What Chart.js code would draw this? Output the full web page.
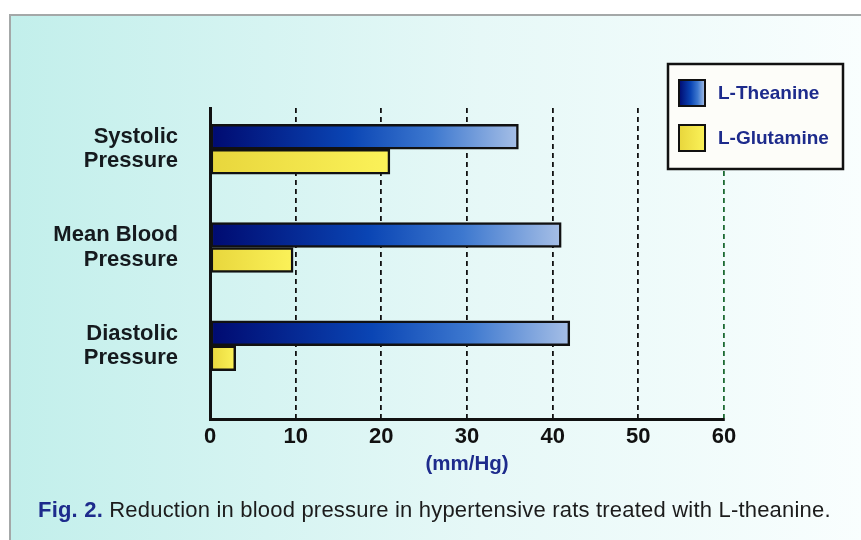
<!DOCTYPE html>
<html>
<head>
<meta charset="utf-8">
<script src="https://cdn.jsdelivr.net/npm/chart.js@4"></script>
<style>
  html, body { margin: 0; padding: 0; background: #ffffff; }
  #wrap { position: relative; width: 861px; height: 540px; overflow: hidden; }
  #panel {
    position: absolute; left: 9px; top: 14px; right: -4px; bottom: -4px;
    border-top: 2px solid #a4a8a8; border-left: 2px solid #a4a8a8;
    background: linear-gradient(to right, #c2efeb 0%, #d6f4f2 30%, #e6f8f7 55%, #f9fefe 100%);
  }
  #chart { position: absolute; left: 0; top: 0; }
  #caption {
    position: absolute; left: 38px; top: 497px;
    font: 22px "Liberation Sans", Arial, sans-serif; line-height: 26px; color: #1c1c1c;
    white-space: nowrap; letter-spacing: 0.2px;
  }
  #caption b { color: #1d2b8c; }
</style>
</head>
<body>
<div id="wrap">
  <div id="panel"></div>
  <canvas id="chart" width="861" height="540"></canvas>
  <div id="caption"><b>Fig. 2.</b> Reduction in blood pressure in hypertensive rats treated with L-theanine.</div>
</div>
<script>
const CATEGORIES = [['Systolic', 'Pressure'], ['Mean Blood', 'Pressure'], ['Diastolic', 'Pressure']];
const SERIES_NAMES = ['L-Theanine', 'L-Glutamine'];
const THEANINE = [36, 41, 42];
const GLUTAMINE = [21, 9.7, 3];
const X_MIN = 0;
const X_MAX = 60;
const X_STEP = 10;

const NAVY = '#1d2b8c';
const FONT = '"Liberation Sans", Arial, sans-serif';

function blueGradient(ctx, x0, x1) {
  const g = ctx.createLinearGradient(x0, 0, x1, 0);
  g.addColorStop(0, '#000a70');
  g.addColorStop(0.45, '#0a45b4');
  g.addColorStop(0.72, '#3d78cf');
  g.addColorStop(1, '#a6bfe6');
  return g;
}

function yellowGradient(ctx, x0, x1) {
  const g = ctx.createLinearGradient(x0, 0, x1, 0);
  g.addColorStop(0, '#e8d63c');
  g.addColorStop(1, '#fbf259');
  return g;
}

function barFill(makeGradient, fallback) {
  return (context) => {
    const chart = context.chart;
    if (!chart.chartArea || !context.parsed || !chart.scales.x) return fallback;
    const x = chart.scales.x;
    return makeGradient(chart.ctx, x.getPixelForValue(0), x.getPixelForValue(context.parsed.x));
  };
}

const legendBox = {
  id: 'legendBox',
  afterDraw(chart) {
    const ctx = chart.ctx;
    ctx.save();
    ctx.fillStyle = '#fdfdf9';
    ctx.fillRect(668, 64, 175, 105);
    ctx.lineWidth = 2.5;
    ctx.strokeStyle = '#111';
    ctx.strokeRect(668, 64, 175, 105);
    const makers = [blueGradient, yellowGradient];
    chart.data.datasets.forEach((ds, i) => {
      const y = 80 + i * 45;
      ctx.fillStyle = makers[i](ctx, 679, 705);
      ctx.fillRect(679, y, 26, 26);
      ctx.lineWidth = 2;
      ctx.strokeStyle = '#111';
      ctx.strokeRect(679, y, 26, 26);
      ctx.fillStyle = NAVY;
      ctx.font = 'bold 19px ' + FONT;
      ctx.textBaseline = 'middle';
      ctx.textAlign = 'left';
      ctx.fillText(ds.label, 718, y + 14);
    });
    ctx.restore();
  }
};

new Chart(document.getElementById('chart'), {
  type: 'bar',
  data: {
    datasets: [{
      label: SERIES_NAMES[0],
      data: THEANINE.map((v, i) => ({ x: v, y: i })),
      backgroundColor: barFill(blueGradient, '#0a45b4'),
      borderColor: '#111',
      borderWidth: 2.5,
      borderSkipped: false,
      barThickness: 25
    }, {
      label: SERIES_NAMES[1],
      data: GLUTAMINE.map((v, i) => ({ x: v, y: i })),
      backgroundColor: barFill(yellowGradient, '#f2e44a'),
      borderColor: '#111',
      borderWidth: 2.5,
      borderSkipped: false,
      barThickness: 25
    }]
  },
  options: {
    indexAxis: 'y',
    responsive: false,
    animation: false,
    layout: { padding: { left: 10, top: 108, right: 137, bottom: 61 } },
    scales: {
      x: {
        type: 'linear',
        min: X_MIN,
        max: X_MAX,
        afterFit: (s) => { s.height = 60; },
        ticks: {
          stepSize: X_STEP,
          padding: 5,
          color: '#111',
          font: { family: FONT, size: 22, weight: 'bold' }
        },
        grid: {
          drawTicks: false,
          color: (ctx) => (ctx.tick && ctx.tick.value === X_MAX ? '#1d6b34' : '#111'),
          lineWidth: 1.8
        },
        border: { display: true, color: '#111', width: 3, dash: [5, 4] },
        title: {
          display: true,
          text: '(mm/Hg)',
          color: NAVY,
          padding: { top: 4, bottom: 2 },
          font: { family: FONT, size: 20.5, weight: 'bold' }
        }
      },
      y: {
        type: 'linear',
        reverse: true,
        offset: false,
        min: -0.42,
        max: 2.745,
        afterFit: (s) => { s.width = 200; },
        afterBuildTicks: (s) => { s.ticks = CATEGORIES.map((c, i) => ({ value: i })); },
        ticks: {
          padding: 32,
          color: '#151a1e',
          callback: (v) => CATEGORIES[v],
          font: { family: FONT, size: 22, weight: 'bold', lineHeight: 1.1 }
        },
        grid: { display: false, drawTicks: false, offset: false },
        border: { display: true, color: '#111', width: 3 }
      }
    },
    plugins: {
      legend: { display: false },
      tooltip: { enabled: false }
    }
  },
  plugins: [legendBox]
});
</script>
</body>
</html>
